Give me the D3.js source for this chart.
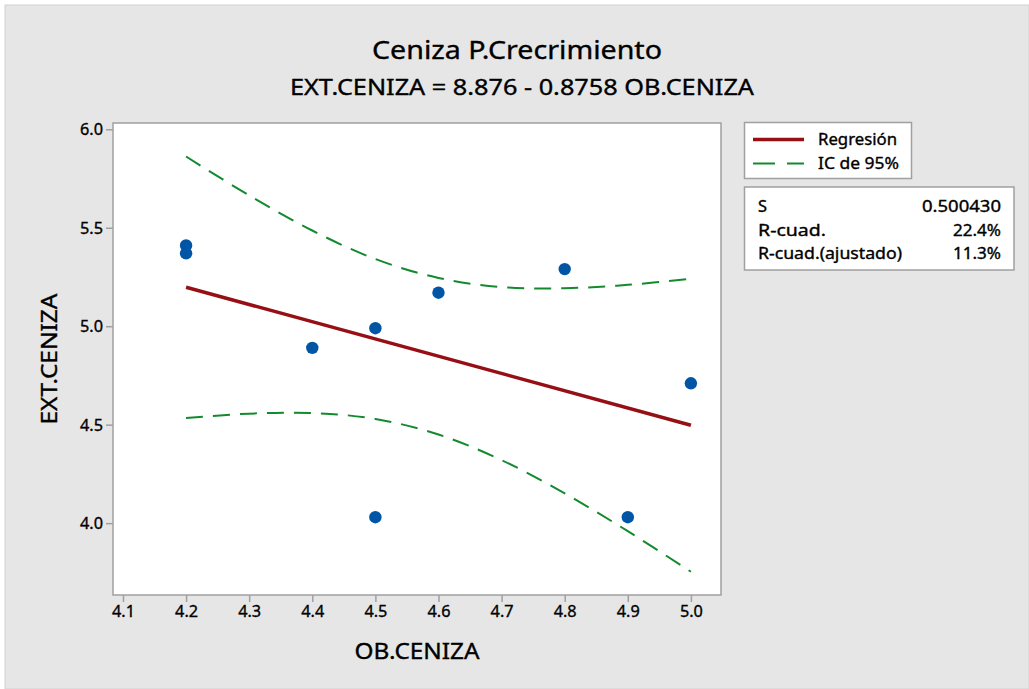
<!DOCTYPE html>
<html><head><meta charset="utf-8">
<script src="https://cdn.jsdelivr.net/npm/d3@7"></script>
<style>body{margin:0;background:#fff;} text{font-family:"Noto Sans",sans-serif;fill:#000;stroke:#000;stroke-width:0.35px;}</style>
</head><body><svg id="c" width="1029" height="689"></svg>
<script>
const title = "Ceniza P.Crecrimiento";
const subtitle = "EXT.CENIZA = 8.876 - 0.8758 OB.CENIZA";
const xLabel = "OB.CENIZA", yLabel = "EXT.CENIZA";
const obsX = [4.2, 4.2, 4.4, 4.5, 4.5, 4.6, 4.8, 4.9, 5.0];
const obsY = [5.41, 5.37, 4.89, 4.99, 4.03, 5.17, 5.29, 4.03, 4.71];
const fitX = [4.2, 5.0];
const fitY = [5.198, 4.497];
const ciX = [4.2, 4.3, 4.4, 4.5, 4.6, 4.7, 4.8, 4.9, 5.0];
const ciUpper = [5.862, 5.664, 5.486, 5.341, 5.245, 5.199, 5.193, 5.210, 5.241];
const ciLower = [4.534, 4.556, 4.559, 4.529, 4.450, 4.320, 4.151, 3.959, 3.753];
const xTicks = [4.1, 4.2, 4.3, 4.4, 4.5, 4.6, 4.7, 4.8, 4.9, 5.0];
const yTicks = [4.0, 4.5, 5.0, 5.5, 6.0];
const legendLabels = ["Regresión", "IC de 95%"];
const statNames = ["S", "R-cuad.", "R-cuad.(ajustado)"];
const statValues = ["0.500430", "22.4%", "11.3%"];

const svg = d3.select("#c");
svg.append("rect").attr("x",5).attr("y",5).attr("width",1024).attr("height",684)
  .attr("fill","#e6e6e6").attr("stroke","#d2d2d2");

const L=113, R=721, T=123, B=595;
const x = d3.scaleLinear().domain([4.0842, 5.0477]).range([L, R]);
const y = d3.scaleLinear().domain([3.635, 6.032]).range([B, T]);

svg.append("rect").attr("x",L).attr("y",T).attr("width",R-L).attr("height",B-T)
  .attr("fill","#fff").attr("stroke","#a0a0a0").attr("stroke-width",1.5);

const xa = svg.append("g").attr("transform",`translate(0,${B})`)
  .call(d3.axisBottom(x).tickValues(xTicks).tickFormat(d3.format(".1f")).tickSize(7).tickPadding(3));
const ya = svg.append("g").attr("transform",`translate(${L},0)`)
  .call(d3.axisLeft(y).tickValues(yTicks).tickFormat(d3.format(".1f")).tickSize(7).tickPadding(3));
[xa,ya].forEach(a=>{
  a.select(".domain").remove();
  a.selectAll(".tick line").attr("stroke","#a0a0a0").attr("stroke-width",1.5);
  a.selectAll(".tick text").attr("font-size",17).attr("fill","#000").attr("textLength",23).attr("lengthAdjust","spacingAndGlyphs")
   .style("font-family","'Noto Sans',sans-serif");
});

svg.append("defs").append("clipPath").attr("id","pc").append("rect")
  .attr("x",L).attr("y",T).attr("width",R-L).attr("height",B-T);
const g = svg.append("g").attr("clip-path","url(#pc)");

const ciLine = d3.line().x(d=>x(d[0])).y(d=>y(d[1])).curve(d3.curveCatmullRom);
[ciUpper, ciLower].forEach(arr=>{
  g.append("path").datum(ciX.map((v,i)=>[v,arr[i]])).attr("d",ciLine)
   .attr("fill","none").attr("stroke","#138a2e").attr("stroke-width",2).attr("stroke-dasharray","17,10");
});
g.append("path").datum(fitX.map((v,i)=>[v,fitY[i]])).attr("d",d3.line().x(d=>x(d[0])).y(d=>y(d[1])))
  .attr("fill","none").attr("stroke","#960f14").attr("stroke-width",3.5);
g.selectAll("circle").data(obsX.map((v,i)=>[v,obsY[i]])).join("circle")
  .attr("cx",d=>x(d[0])).attr("cy",d=>y(d[1])).attr("r",6.2).attr("fill","#0055a5");

function txt(xp, yp, s, size, anchor, len, parent){
  const t = (parent||svg).append("text").attr("x",xp).attr("y",yp).attr("font-size",size)
    .attr("text-anchor",anchor||"start").text(s);
  if(len) t.attr("textLength",len).attr("lengthAdjust","spacingAndGlyphs");
  return t;
}
txt(517, 59, title, 26, "middle", 290);
txt(522, 95, subtitle, 21, "middle", 464);
txt((L+R)/2, 659, xLabel, 21, "middle", 125);
const yl = svg.append("g").attr("transform",`translate(57,${(T+B)/2}) rotate(-90)`);
txt(0, 0, yLabel, 21, "middle", 131, yl);

// legend
svg.append("rect").attr("x",744.5).attr("y",122.5).attr("width",167).attr("height",56)
  .attr("fill","#fff").attr("stroke","#a0a0a0").attr("stroke-width",1.5);
svg.append("line").attr("x1",753).attr("x2",804).attr("y1",139.5).attr("y2",139.5).attr("stroke","#960f14").attr("stroke-width",3.5);
svg.append("line").attr("x1",753).attr("x2",804).attr("y1",163.5).attr("y2",163.5).attr("stroke","#138a2e").attr("stroke-width",2).attr("stroke-dasharray","22,12");
legendLabels.forEach((t,i)=>txt(818, 145+i*24, t, 16, "start", [79,81][i]));

svg.append("rect").attr("x",744.5).attr("y",187).attr("width",269.5).attr("height",83)
  .attr("fill","#fff").attr("stroke","#a0a0a0").attr("stroke-width",1.5);
const nameLens = [9, 68, 144], valLens = [79, 48, 48];
statNames.forEach((t,i)=>{
  txt(758, 212+i*23.5, t, 16, "start", nameLens[i]);
  txt(1001, 212+i*23.5, statValues[i], 16, "end", valLens[i]);
});
</script></body></html>
